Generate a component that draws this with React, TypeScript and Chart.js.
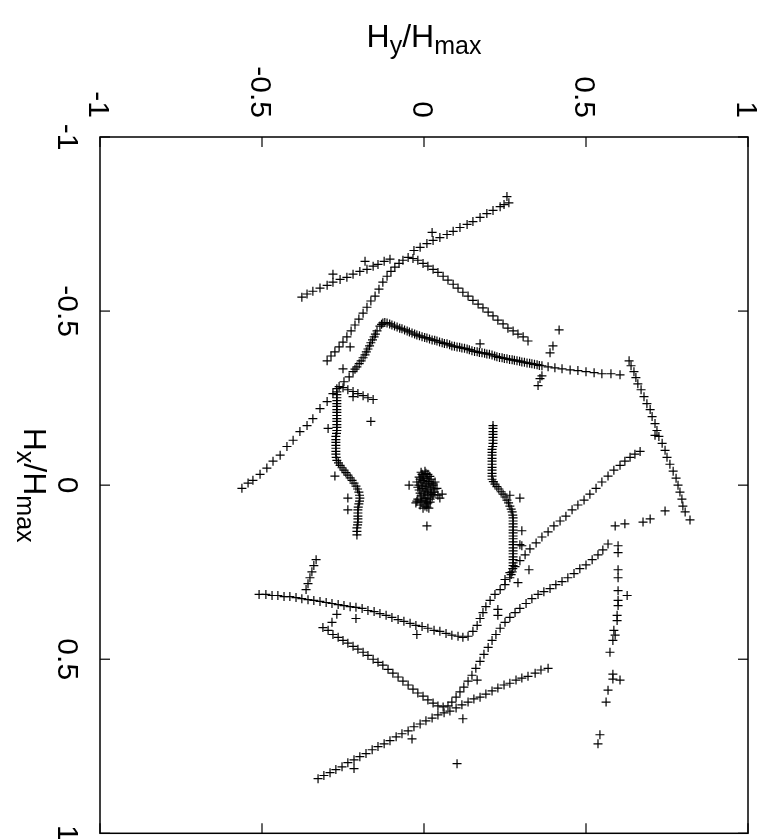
import React, { useEffect, useRef } from "react";
import { Chart, registerables } from "chart.js";

Chart.register(...registerables);

// Tick values and labels (same on both axes)
const TICKS = [-1, -0.5, 0, 0.5, 1];
const TICK_LABELS = ["-1", "-0.5", "0", "0.5", "1"];

// Each array: [Hy/Hmax, Hx/Hmax]
const lineUpper = [
  [0.256,-0.829],[0.262,-0.811],[0.247,-0.806],[0.235,-0.800],[0.213,-0.789],[0.194,-0.780],[0.173,-0.769],
  [0.151,-0.757],[0.133,-0.749],[0.111,-0.740],[0.090,-0.729],[0.071,-0.720],[0.049,-0.711],[0.028,-0.703],
  [0.009,-0.694],[-0.012,-0.683],[-0.031,-0.674],
];
const lineLower = [
  [-0.105,-0.649],[-0.123,-0.643],[-0.142,-0.634],[-0.157,-0.629],[-0.176,-0.620],[-0.198,-0.614],[-0.219,-0.606],
  [-0.238,-0.597],[-0.259,-0.591],[-0.281,-0.583],[-0.299,-0.574],[-0.321,-0.566],[-0.343,-0.557],[-0.361,-0.549],
  [-0.377,-0.540],
];
const tentLeft = [
  [-0.299,-0.357],[-0.287,-0.371],[-0.275,-0.383],[-0.262,-0.397],[-0.250,-0.411],[-0.238,-0.426],[-0.225,-0.443],
  [-0.213,-0.460],[-0.201,-0.477],[-0.188,-0.494],[-0.176,-0.511],[-0.164,-0.529],[-0.151,-0.543],[-0.139,-0.563],
  [-0.127,-0.583],[-0.114,-0.600],[-0.102,-0.614],[-0.090,-0.626],[-0.077,-0.637],[-0.065,-0.646],[-0.049,-0.654],
];
const tentRight = [
  [-0.034,-0.651],[-0.019,-0.646],[-0.003,-0.637],[0.012,-0.629],[0.028,-0.620],[0.043,-0.611],[0.059,-0.600],
  [0.074,-0.589],[0.090,-0.577],[0.105,-0.566],[0.120,-0.554],[0.136,-0.543],[0.151,-0.531],[0.167,-0.520],
  [0.182,-0.509],[0.198,-0.497],[0.213,-0.486],[0.228,-0.474],[0.244,-0.463],[0.259,-0.451],[0.275,-0.443],
  [0.290,-0.434],[0.306,-0.426],[0.321,-0.414],
];
const innerRight = [
  [-0.136,-0.457],[-0.127,-0.466],[-0.114,-0.466],[-0.099,-0.460],[-0.083,-0.454],[-0.068,-0.449],[-0.052,-0.443],
  [-0.037,-0.437],[-0.022,-0.431],[-0.006,-0.426],[0.009,-0.423],[0.025,-0.417],[0.040,-0.414],[0.056,-0.409],
  [0.071,-0.406],[0.086,-0.400],[0.102,-0.397],[0.117,-0.394],[0.133,-0.391],[0.148,-0.386],[0.164,-0.383],
  [0.179,-0.380],[0.194,-0.377],[0.210,-0.374],[0.225,-0.369],[0.241,-0.366],[0.256,-0.363],[0.272,-0.360],
  [0.287,-0.357],[0.302,-0.354],[0.318,-0.351],[0.333,-0.349],[0.349,-0.346],[0.364,-0.343],[0.383,-0.340],
  [0.404,-0.337],[0.426,-0.334],[0.451,-0.331],[0.475,-0.329],[0.500,-0.326],[0.525,-0.323],[0.549,-0.320],
  [0.577,-0.320],[0.605,-0.317],
  [-0.131,-0.462],[-0.121,-0.467],[-0.106,-0.463],[-0.091,-0.457],[-0.075,-0.451],[-0.060,-0.446],[-0.045,-0.440],
  [-0.029,-0.434],[-0.014,-0.429],[0.002,-0.424],[0.017,-0.420],[0.033,-0.416],[0.048,-0.411],[0.063,-0.407],
  [0.079,-0.403],[0.094,-0.399],[0.110,-0.396],[0.125,-0.393],[0.140,-0.389],[0.156,-0.384],[0.171,-0.381],
  [0.187,-0.379],[0.202,-0.376],[0.218,-0.371],[0.233,-0.367],[0.248,-0.364],[0.264,-0.361],[0.279,-0.359],
  [0.295,-0.356],[0.310,-0.353],[0.326,-0.350],[0.341,-0.347],[0.356,-0.344],
];
const innerLeft = [
  [-0.145,-0.443],[-0.154,-0.426],[-0.164,-0.409],[-0.173,-0.391],[-0.182,-0.374],[-0.194,-0.357],[-0.207,-0.340],
  [-0.219,-0.326],[-0.231,-0.311],[-0.247,-0.297],[-0.262,-0.283],[-0.281,-0.263],[-0.299,-0.240],[-0.321,-0.220],
  [-0.343,-0.191],[-0.361,-0.171],[-0.383,-0.154],[-0.404,-0.129],[-0.423,-0.111],[-0.444,-0.086],[-0.466,-0.069],
  [-0.485,-0.049],[-0.506,-0.031],[-0.528,-0.014],[-0.543,-0.006],[-0.562,0.009],
  [-0.150,-0.434],[-0.159,-0.417],[-0.168,-0.400],[-0.178,-0.383],[-0.188,-0.366],[-0.200,-0.349],[-0.213,-0.333],
];
const leftVertical = [
  [-0.269,-0.277],[-0.269,-0.260],[-0.269,-0.243],[-0.269,-0.226],[-0.269,-0.209],[-0.269,-0.191],[-0.269,-0.174],
  [-0.269,-0.157],[-0.272,-0.140],[-0.272,-0.123],[-0.272,-0.106],[-0.272,-0.089],[-0.269,-0.071],[-0.259,-0.057],
  [-0.247,-0.043],[-0.235,-0.029],[-0.222,-0.014],[-0.210,0.003],[-0.201,0.020],[-0.198,0.037],[-0.201,0.054],
  [-0.204,0.071],[-0.204,0.089],[-0.204,0.106],[-0.207,0.123],[-0.207,0.143],
  [-0.269,-0.268],[-0.269,-0.251],[-0.269,-0.234],[-0.269,-0.217],[-0.269,-0.200],[-0.269,-0.183],[-0.269,-0.166],
  [-0.270,-0.149],[-0.272,-0.131],[-0.272,-0.114],[-0.272,-0.097],[-0.271,-0.080],[-0.264,-0.064],[-0.253,-0.050],
  [-0.241,-0.036],[-0.228,-0.021],[-0.216,-0.006],[-0.205,0.011],[-0.199,0.029],[-0.199,0.046],[-0.203,0.063],
  [-0.204,0.080],[-0.204,0.097],[-0.205,0.114],[-0.207,0.133],
];
const shortTail = [
  [-0.250,-0.280],[-0.235,-0.274],[-0.219,-0.269],[-0.204,-0.263],[-0.188,-0.257],[-0.173,-0.251],[-0.157,-0.246],
];
const rightVertical = [
  [0.213,-0.171],[0.213,-0.154],[0.213,-0.137],[0.213,-0.120],[0.210,-0.103],[0.210,-0.086],[0.210,-0.069],
  [0.210,-0.051],[0.210,-0.034],[0.210,-0.017],[0.219,-0.003],[0.231,0.011],[0.244,0.026],[0.256,0.043],
  [0.265,0.060],[0.272,0.077],[0.275,0.094],[0.275,0.111],[0.275,0.129],[0.275,0.146],[0.275,0.163],
  [0.275,0.180],[0.275,0.197],[0.275,0.214],[0.275,0.231],[0.272,0.249],[0.265,0.266],
  [0.213,-0.163],[0.213,-0.146],[0.213,-0.129],[0.212,-0.111],[0.210,-0.094],[0.210,-0.077],[0.210,-0.060],
  [0.210,-0.043],[0.210,-0.026],[0.214,-0.010],[0.225,0.004],[0.238,0.019],[0.250,0.034],[0.261,0.051],
  [0.269,0.069],[0.274,0.086],[0.275,0.103],[0.275,0.120],[0.275,0.137],[0.275,0.154],[0.275,0.171],
  [0.275,0.189],[0.275,0.206],[0.275,0.223],[0.274,0.240],[0.269,0.257],
];
const bottomCurve = [
  [0.250,0.286],[0.235,0.300],[0.219,0.314],[0.204,0.331],[0.191,0.349],[0.182,0.366],[0.173,0.383],
  [0.164,0.403],[0.151,0.420],[0.136,0.434],[0.120,0.437],[0.105,0.434],[0.086,0.431],[0.068,0.426],
  [0.049,0.420],[0.031,0.417],[0.012,0.411],[-0.006,0.406],[-0.025,0.403],[-0.043,0.397],[-0.062,0.391],
  [-0.080,0.386],[-0.099,0.380],[-0.117,0.374],[-0.136,0.369],[-0.154,0.363],[-0.173,0.360],[-0.191,0.354],
  [-0.210,0.351],[-0.228,0.349],[-0.247,0.346],[-0.265,0.343],[-0.284,0.340],[-0.302,0.337],[-0.321,0.334],
  [-0.340,0.331],[-0.358,0.329],[-0.377,0.326],[-0.395,0.323],[-0.414,0.320],[-0.432,0.320],[-0.451,0.317],
  [-0.469,0.317],[-0.488,0.314],[-0.509,0.314],
];
const stub = [
  [-0.333,0.214],[-0.340,0.231],[-0.346,0.249],[-0.352,0.266],[-0.358,0.283],[-0.364,0.300],
];
const rightDiagonal = [
  [0.667,-0.097],[0.651,-0.089],[0.636,-0.080],[0.620,-0.069],[0.605,-0.057],[0.586,-0.043],[0.568,-0.026],
  [0.549,-0.009],[0.531,0.009],[0.512,0.026],[0.494,0.043],[0.475,0.057],[0.457,0.071],[0.438,0.089],
  [0.420,0.103],[0.401,0.117],[0.383,0.134],[0.364,0.149],[0.346,0.166],[0.327,0.183],[0.312,0.200],
  [0.296,0.217],[0.281,0.234],[0.265,0.251],[0.250,0.271],
];
const lowerVee = [
  [-0.312,0.409],[-0.296,0.417],[-0.281,0.429],[-0.265,0.437],[-0.250,0.446],[-0.235,0.454],[-0.219,0.463],
  [-0.204,0.471],[-0.188,0.480],[-0.173,0.489],[-0.157,0.500],[-0.142,0.509],[-0.127,0.517],[-0.111,0.529],
  [-0.096,0.540],[-0.080,0.551],[-0.065,0.563],[-0.049,0.574],[-0.034,0.586],[-0.019,0.597],[-0.003,0.606],
  [0.012,0.617],[0.028,0.626],[0.043,0.634],[0.059,0.637],[0.074,0.634],[0.086,0.623],[0.099,0.609],
  [0.111,0.594],[0.123,0.580],[0.136,0.563],[0.148,0.546],[0.160,0.526],[0.173,0.506],[0.185,0.486],
  [0.198,0.466],[0.210,0.446],[0.222,0.429],[0.235,0.411],[0.250,0.394],[0.265,0.380],[0.281,0.366],
  [0.296,0.354],[0.315,0.340],[0.333,0.326],[0.352,0.314],[0.370,0.306],[0.389,0.297],[0.407,0.286],
  [0.426,0.277],[0.444,0.266],[0.463,0.254],[0.481,0.240],[0.500,0.229],[0.519,0.214],[0.537,0.200],
  [0.552,0.186],[0.568,0.169],
];
const lowerLine = [
  [-0.327,0.843],[-0.309,0.834],[-0.290,0.826],[-0.272,0.817],[-0.253,0.809],[-0.235,0.797],[-0.216,0.789],
  [-0.198,0.780],[-0.179,0.771],[-0.160,0.760],[-0.142,0.751],[-0.123,0.743],[-0.105,0.734],[-0.086,0.723],
  [-0.068,0.714],[-0.049,0.706],[-0.031,0.694],[-0.012,0.686],[0.006,0.677],[0.025,0.669],[0.043,0.660],
  [0.062,0.654],[0.080,0.649],[0.099,0.640],[0.117,0.631],[0.136,0.623],[0.154,0.614],[0.173,0.609],
  [0.191,0.600],[0.210,0.591],[0.228,0.583],[0.247,0.574],[0.265,0.569],[0.284,0.560],[0.302,0.554],
  [0.321,0.549],[0.343,0.540],[0.361,0.531],[0.383,0.526],
];
const outerRight = [
  [0.633,-0.357],[0.639,-0.343],[0.648,-0.326],[0.654,-0.309],[0.660,-0.291],[0.670,-0.274],[0.679,-0.254],
  [0.688,-0.234],[0.698,-0.217],[0.704,-0.197],[0.713,-0.177],[0.719,-0.157],[0.725,-0.140],[0.735,-0.120],
  [0.744,-0.100],[0.750,-0.080],[0.759,-0.060],[0.769,-0.040],[0.778,-0.020],[0.784,0.000],[0.790,0.020],
  [0.796,0.040],[0.799,0.060],[0.806,0.077],[0.821,0.100],
];
const sparseChain = [
  [0.599,0.174],[0.599,0.194],[0.599,0.243],[0.599,0.266],[0.599,0.303],[0.627,0.317],[0.599,0.331],
  [0.599,0.346],[0.596,0.374],[0.596,0.389],[0.586,0.417],[0.590,0.431],[0.583,0.446],[0.574,0.480],
  [0.583,0.543],[0.583,0.557],[0.605,0.560],[0.568,0.589],[0.562,0.623],[0.543,0.717],[0.537,0.743],
];
const sparseRow = [
  [0.590,0.117],[0.620,0.111],[0.676,0.106],[0.698,0.097],[0.744,0.074],
];
const centerCluster = [
  [-0.009,-0.037],[0.003,-0.040],[0.012,-0.031],[-0.015,-0.023],[-0.003,-0.026],[0.009,-0.020],[0.022,-0.017],
  [-0.022,-0.009],[-0.009,-0.009],[0.003,-0.006],[0.015,-0.003],[0.028,0.000],[0.040,0.009],[-0.019,0.006],
  [-0.006,0.009],[0.006,0.011],[0.019,0.014],[0.031,0.020],[-0.012,0.023],[0.000,0.026],[0.012,0.029],
  [0.025,0.034],[0.043,0.029],[-0.019,0.040],[-0.006,0.043],[0.006,0.046],[0.019,0.049],[-0.012,0.057],
  [0.003,0.060],[0.015,0.066],[-0.025,0.051],[-0.003,-0.014],[0.009,0.003],[0.022,0.023],[0.000,0.037],
  [0.012,0.051],[0.034,-0.009],
  [-0.006,-0.031],[0.006,-0.034],[0.018,-0.025],[-0.012,-0.017],[0.000,-0.020],[0.015,-0.011],[0.028,-0.006],
  [-0.016,0.000],[-0.003,0.003],[0.022,0.006],[0.034,0.011],[-0.015,0.014],[0.003,0.017],[0.012,0.020],
  [0.028,0.027],[-0.009,0.031],[0.006,0.037],[0.019,0.040],[-0.022,0.046],[-0.009,0.049],[0.009,0.054],
  [-0.003,0.066],[0.009,0.063],
];
const strayPoints = [
  [0.025,-0.726],[-0.182,-0.643],[-0.281,-0.606],[-0.228,-0.397],[-0.250,-0.334],[0.173,-0.406],[0.364,-0.314],
  [0.358,-0.306],[0.352,-0.286],[0.417,-0.446],[0.398,-0.400],[0.389,-0.380],[-0.296,-0.163],[-0.275,-0.026],
  [-0.235,0.037],[-0.235,0.071],[-0.164,-0.183],[-0.219,-0.254],[0.265,0.029],[0.296,0.037],[0.302,0.131],
  [0.296,0.171],[-0.269,0.371],[-0.210,0.383],[-0.022,0.429],[-0.284,0.394],[0.228,0.357],[0.228,0.374],
  [0.324,0.243],[0.290,0.280],[0.302,0.174],[0.164,0.560],[0.713,-0.143],[-0.037,0.729],[-0.216,0.814],
  [0.102,0.800],[0.120,0.671],[-0.046,0.000],[0.049,0.037],[0.056,0.026],[0.009,0.117],
];

const SERIES = [
  lineUpper, lineLower, tentLeft, tentRight, innerRight, innerLeft, leftVertical, shortTail,
  rightVertical, bottomCurve, stub, rightDiagonal, lowerVee, lowerLine, outerRight, sparseChain,
  sparseRow, centerCluster, strayPoints,
];

const FONT = '"Liberation Sans", Arial, Helvetica, sans-serif';

type Part = { t: string; sub?: boolean };
const TITLE_Y: Part[] = [{ t: "H" }, { t: "y", sub: true }, { t: "/" }, { t: "H" }, { t: "max", sub: true }];
const TITLE_X: Part[] = [{ t: "H" }, { t: "x", sub: true }, { t: "/" }, { t: "H" }, { t: "max", sub: true }];

function drawRich(ctx: CanvasRenderingContext2D, parts: Part[]) {
  const main = `32px ${FONT}`;
  const sub = `25px ${FONT}`;
  let total = 0;
  const widths = parts.map((p) => {
    ctx.font = p.sub ? sub : main;
    const w = ctx.measureText(p.t).width;
    total += w;
    return w;
  });
  let x = -total / 2;
  ctx.textAlign = "left";
  ctx.textBaseline = "alphabetic";
  parts.forEach((p, i) => {
    ctx.font = p.sub ? sub : main;
    ctx.fillText(p.t, x, p.sub ? 7 : 0);
    x += widths[i];
  });
}

const framePlugin = {
  id: "gnuplotFrame",
  afterDraw(chart: any) {
    const { ctx, chartArea: a, scales } = chart;
    const xs = scales.x;
    const ys = scales.y;
    ctx.save();
    ctx.strokeStyle = "#000";
    ctx.fillStyle = "#000";
    ctx.lineWidth = 1.5;
    ctx.strokeRect(a.left, a.top, a.right - a.left, a.bottom - a.top);
    ctx.lineWidth = 1.2;
    const seg = (x1: number, y1: number, x2: number, y2: number) => {
      ctx.beginPath();
      ctx.moveTo(x1, y1);
      ctx.lineTo(x2, y2);
      ctx.stroke();
    };
    TICKS.forEach((v) => {
      const px = xs.getPixelForValue(v);
      seg(px, a.top, px, a.top + 10);
      seg(px, a.bottom, px, a.bottom - 10);
      const py = ys.getPixelForValue(v);
      seg(a.left, py, a.left + 10, py);
      seg(a.right, py, a.right - 10, py);
    });
    ctx.font = `30px ${FONT}`;
    TICKS.forEach((v, i) => {
      const label = TICK_LABELS[i];
      const px = xs.getPixelForValue(v);
      ctx.save();
      ctx.translate(px - 11, a.top - 19);
      ctx.rotate(Math.PI / 2);
      ctx.textAlign = "right";
      ctx.textBaseline = "alphabetic";
      ctx.fillText(label, 0, 0);
      ctx.restore();
      const py = ys.getPixelForValue(v);
      ctx.save();
      ctx.translate(a.left - 42, py);
      ctx.rotate(Math.PI / 2);
      ctx.textAlign = "center";
      ctx.textBaseline = "alphabetic";
      ctx.fillText(label, 0, 0);
      ctx.restore();
    });
    ctx.save();
    ctx.translate((a.left + a.right) / 2, 47);
    drawRich(ctx, TITLE_Y);
    ctx.restore();
    ctx.save();
    ctx.translate(24, (a.top + a.bottom) / 2);
    ctx.rotate(Math.PI / 2);
    drawRich(ctx, TITLE_X);
    ctx.restore();
    ctx.restore();
  },
};

export default function App() {
  const ref = useRef<HTMLCanvasElement | null>(null);
  useEffect(() => {
    document.body.style.margin = "0";
    document.body.style.overflow = "hidden";
    const canvas = ref.current;
    if (!canvas) return;
    const chart = new Chart(canvas, {
      type: "scatter",
      data: {
        datasets: SERIES.map((s) => ({
          data: s.map(([hy, hx]) => ({ x: hy, y: hx })),
          pointStyle: "cross",
          pointRadius: 4.5,
          pointHoverRadius: 4.5,
          pointBorderWidth: 1.2,
          pointBorderColor: "#000",
          pointBackgroundColor: "#000",
          borderColor: "#000",
          showLine: false,
        })),
      },
      options: {
        animation: false,
        responsive: false,
        devicePixelRatio: 1,
        events: [],
        layout: { padding: { left: 100, top: 137, right: 21, bottom: 2 } },
        plugins: { legend: { display: false }, tooltip: { enabled: false } },
        scales: {
          x: { type: "linear", min: -1, max: 1, display: false },
          y: { type: "linear", min: -1, max: 1, reverse: true, display: false },
        },
      },
      plugins: [framePlugin],
    });
    return () => chart.destroy();
  }, []);
  return (
    <div style={{ width: 769, height: 839 }}>
      <canvas ref={ref} width={769} height={839} style={{ display: "block" }} />
    </div>
  );
}
